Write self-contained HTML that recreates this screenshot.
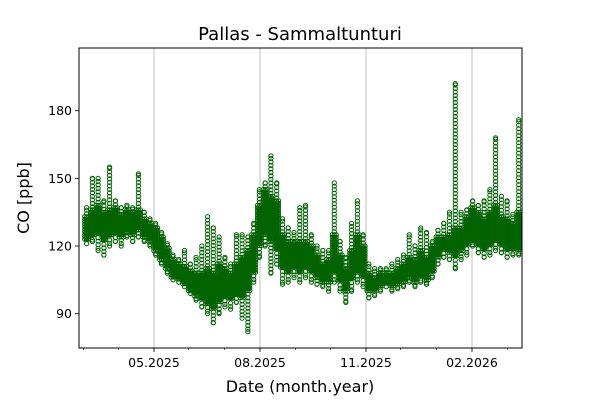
<!DOCTYPE html>
<html><head><meta charset="utf-8"><style>
body{margin:0;background:#fff}
svg{font-family:"DejaVu Sans","Liberation Sans",sans-serif}
</style></head><body>
<svg id="chart" width="600" height="400" viewBox="0 0 600 400">
<defs><clipPath id="pc"><rect x="79" y="48" width="443" height="300"/></clipPath></defs>
<rect width="600" height="400" fill="#fff"/>
<g id="grid"></g>
<g id="marks" clip-path="url(#pc)"></g>
<rect x="79" y="48" width="443" height="300" fill="none" stroke="#000" stroke-width="1"/>
<g id="axes"></g>
<text x="300" y="40" text-anchor="middle" font-size="18">Pallas - Sammaltunturi</text>
<text x="300" y="392" text-anchor="middle" font-size="16">Date (month.year)</text>
<text x="29" y="198" text-anchor="middle" font-size="16" transform="rotate(-90 29 198)">CO [ppb]</text>
</svg>
<script>
const binStartDay = -61; // days relative to 2025-05-01
const binDays = 5;
const coreLo = [122,124,125,122,124,125,124,126,125,127,124,122,118,114,110,106,105,103,100,98,96,94,92,95,97,96,98,97,100,108,120,125,122,118,110,108,110,108,110,108,106,104,104,108,104,100,105,108,106,100,100,102,103,102,103,104,106,104,106,105,108,115,118,117,115,118,120,122,120,118,120,122,120,118,118,118];
const coreHi = [133,136,138,135,136,137,134,136,135,136,132,130,128,124,119,114,112,111,109,108,108,110,108,112,110,108,112,115,118,125,138,145,142,140,125,122,122,122,122,120,116,112,114,125,116,110,118,125,120,108,106,108,108,108,110,112,115,114,118,115,120,124,124,125,128,128,133,137,135,132,135,138,133,132,130,135];
const extLo = [121,122,118,116,120,122,120,124,122,124,122,120,116,112,108,105,104,102,99,96,93,90,86,90,93,92,95,88,82,104,115,120,108,112,103,104,106,104,106,104,103,102,100,104,100,95,100,104,102,97,98,100,102,100,101,102,104,102,104,103,106,112,115,114,110,114,116,120,117,115,116,118,117,115,116,116];
const extHi = [137,150,150,140,155,140,137,138,137,152,135,132,130,126,121,116,114,118,112,115,120,133,128,124,115,112,125,125,124,130,145,148,160,148,132,128,126,137,138,125,120,118,118,148,122,115,130,140,125,112,110,110,110,112,114,116,125,120,128,126,122,127,130,135,192,135,136,140,138,140,145,168,142,140,134,176];
const yTicks = [90,120,150,180];
const xTickLabels = ["05.2025","08.2025","11.2025","02.2026"];
const xTickDays = [0,92,184,276];
const minorDays = [-61,-31,0,30,61,92,123,153,184,214,245,276,307];

const NS="http://www.w3.org/2000/svg";
const X = d => 154 + d*1.1522;
const Y = v => 246 - (v-120)*2.255;
function mk(tag, attrs, parent){const e=document.createElementNS(NS,tag);for(const k in attrs)e.setAttribute(k,attrs[k]);parent.appendChild(e);return e;}
const grid=document.getElementById('grid'), marks=document.getElementById('marks'), axes=document.getElementById('axes');

xTickDays.forEach((d,i)=>{
  const x=X(d);
  const gl=mk('line',{x1:x,x2:x,y1:48,y2:348,stroke:'#b0b0b0','stroke-width':0.8},grid);
  
  
  const t=mk('line',{x1:x,x2:x,y1:348,y2:352,stroke:'#000','stroke-width':0.8},axes);
  
  
  const tx=mk('text',{x:x,y:367,'text-anchor':'middle','font-size':12.5},axes);
  tx.textContent=xTickLabels[i];
  
  
});
minorDays.forEach(d=>{
  const x=X(d);
  const t=mk('line',{x1:x,x2:x,y1:348,y2:350,stroke:'#000','stroke-width':0.6},axes);
  
  
});
yTicks.forEach(v=>{
  const y=Y(v);
  const t=mk('line',{x1:75,x2:79,y1:y,y2:y,stroke:'#000','stroke-width':0.8},axes);
  
  
  const tx=mk('text',{x:72,y:y+4.5,'text-anchor':'end','font-size':12.5},axes);
  tx.textContent=v;
  
  
});

const C='#006400';
function pt(x,y){
  const c=mk('circle',{cx:x.toFixed(1),cy:y.toFixed(1),r:2.1,fill:'none',stroke:C,'stroke-width':1},marks);
  
  
}
coreLo.forEach((lo,i)=>{
  const d0=binStartDay+binDays*i;
  const x0=X(d0), x1=X(d0+binDays);
  const hi=coreHi[i];
  const y1=Y(lo), y2=Y(hi);
  const bar=mk('rect',{x:x0,y:y2,width:x1-x0,height:Math.max(0,y1-y2),fill:C},marks);
  
  
  for(let k=0;k<3;k++){
    const x=x0+(x1-x0)*(k+0.5)/3;
    for(let y=y2;y<=y1;y+=2.5) pt(x,y);
  }
  const xm=(x0+x1)/2;
  for(let y=Y(hi)-3;y>=Y(extHi[i]);y-=3.5) pt(xm,y);
  for(let y=Y(lo)+3;y<=Y(extLo[i]);y+=3.5) pt(xm,y);
  pt(xm,Y(extHi[i])); pt(xm,Y(extLo[i]));
});
</script>
</body></html>
